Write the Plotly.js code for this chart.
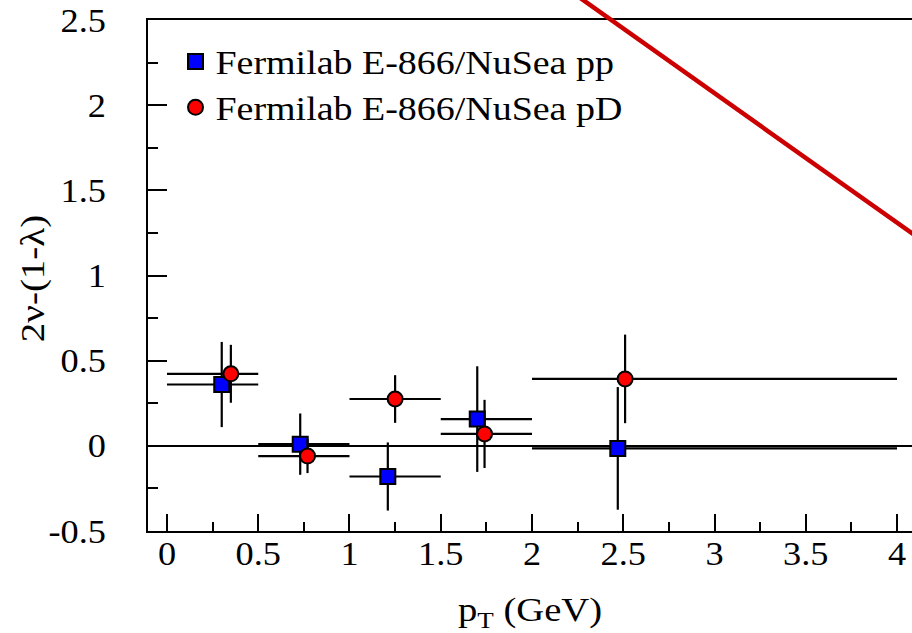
<!DOCTYPE html>
<html>
<head>
<meta charset="utf-8">
<script src="https://cdn.plot.ly/plotly-3.0.1.min.js"></script>
<style>
  html, body { margin: 0; padding: 0; background: #fff; overflow: hidden; }
  #chart { width: 912px; height: 633px; }
</style>
</head>
<body>
<div id="chart"></div>
<script>
// ---- data ----
const binLo = [0.0, 0.5, 1.0, 1.5, 2.0];
const binHi = [0.5, 1.0, 1.5, 2.0, 4.0];

const ppName = 'Fermilab E-866/NuSea pp';
const ppX   = [0.30, 0.73, 1.21, 1.70, 2.47];
const ppY   = [0.36, 0.01, -0.18, 0.157, -0.015];
const ppErr = [0.25, 0.18, 0.20, 0.31, 0.36];

const pdName = 'Fermilab E-866/NuSea pD';
const pdX   = [0.35, 0.77, 1.25, 1.74, 2.51];
const pdY   = [0.423, -0.06, 0.275, 0.07, 0.393];
const pdErr = [0.17, 0.10, 0.14, 0.20, 0.26];

const lineX = [2.25, 4.10];
const lineY = [2.64, 1.234];

const yTickVals = [-0.5, 0, 0.5, 1, 1.5, 2, 2.5];
const yTickText = ['-0.5', '0', '0.5', '1', '1.5', '2', '2.5'];
const xTickVals = [0, 0.5, 1, 1.5, 2, 2.5, 3, 3.5, 4];
const xTickText = ['0', '0.5', '1', '1.5', '2', '2.5', '3', '3.5', '4'];

// ---- chart ----
const FONT = 'Liberation Serif';
const FS = 33;

function errPlus(xs)  { return xs.map((x, i) => binHi[i] - x); }
function errMinus(xs) { return xs.map((x, i) => x - binLo[i]); }
const errStyle = { color: '#000', thickness: 2.2, width: 0 };

const traces = [
  { type: 'scatter', mode: 'markers', name: ppName, x: ppX, y: ppY, xaxis: 'x', yaxis: 'y',
    marker: { symbol: 'square', size: 15, color: '#0000ff', line: { color: '#000', width: 2 } },
    error_x: Object.assign({ type: 'data', symmetric: false, array: errPlus(ppX), arrayminus: errMinus(ppX) }, errStyle),
    error_y: Object.assign({ type: 'data', array: ppErr }, errStyle), cliponaxis: false },
  { type: 'scatter', mode: 'markers', name: pdName, x: pdX, y: pdY, xaxis: 'x', yaxis: 'y',
    marker: { symbol: 'circle', size: 15, color: '#ff0000', line: { color: '#000', width: 2 } },
    error_x: Object.assign({ type: 'data', symmetric: false, array: errPlus(pdX), arrayminus: errMinus(pdX) }, errStyle),
    error_y: Object.assign({ type: 'data', array: pdErr }, errStyle), cliponaxis: false },
  { type: 'scatter', mode: 'lines', name: 'theory', x: lineX, y: lineY, xaxis: 'x', yaxis: 'y2',
    line: { color: '#cc0000', width: 4.5 }, showlegend: false, hoverinfo: 'skip' }
];

const W = 912, H = 633;
const mL = 148, mR = 0, mT = 0, mB = 102;
const plotH = H - mT - mB;        // 531
const frameTopPx = 20;            // top frame line sits 20px below the canvas top
const yDomTop = (plotH - frameTopPx) / plotH;
const yMin = -0.5, yMax = 2.5;
const y2Max = yMin + (yMax - yMin) / yDomTop;

const layout = {
  width: W, height: H,
  margin: { l: mL, r: mR, t: mT, b: mB, pad: 0 },
  paper_bgcolor: '#fff', plot_bgcolor: 'rgba(0,0,0,0)',
  font: { family: FONT, size: FS, color: '#000' },
  showlegend: true,
  legend: { x: 0.036, y: 0.937, xanchor: 'left', yanchor: 'top',
    bgcolor: 'rgba(0,0,0,0)', borderwidth: 0,
    font: { family: FONT, size: FS, color: '#000' }, tracegroupgap: 0, itemwidth: 30 },
  xaxis: { domain: [0, 1], anchor: 'y', range: [-0.104, 4.082],
    tickmode: 'array', tickvals: xTickVals, ticktext: xTickText,
    ticks: 'inside', ticklen: 17, tickwidth: 2, tickcolor: '#000',
    minor: { ticks: 'inside', ticklen: 9, tickwidth: 2, tickcolor: '#000', tickmode: 'linear', tick0: 0, dtick: 0.25 },
    showline: true, linewidth: 2, linecolor: '#000', mirror: true, showgrid: false, zeroline: false,
    tickfont: { family: FONT, size: FS, color: '#000' }, ticklabelstandoff: -8,
    title: { text: 'p<sub>T</sub> (GeV)', font: { family: FONT, size: FS, color: '#000' }, standoff: 38 } },
  yaxis: { domain: [0, yDomTop], anchor: 'x', range: [yMin, yMax],
    tickmode: 'array', tickvals: yTickVals, ticktext: yTickText,
    ticks: 'inside', ticklen: 19, tickwidth: 2, tickcolor: '#000',
    minor: { ticks: 'inside', ticklen: 10, tickwidth: 2, tickcolor: '#000', tickmode: 'linear', tick0: 0, dtick: 0.25 },
    showline: true, linewidth: 2.5, linecolor: '#000', mirror: false, showgrid: false,
    zeroline: true, zerolinewidth: 2, zerolinecolor: '#000',
    tickfont: { family: FONT, size: FS, color: '#000' }, ticklabelstandoff: 33,
    title: { text: '2ν-(1-λ)', font: { family: FONT, size: FS, color: '#000' }, standoff: 0 } },
  yaxis2: { domain: [0, 1], anchor: 'x', range: [yMin, y2Max], visible: false, showgrid: false, zeroline: false }
};

// the reference typesetting is a little wider than Liberation Serif: widen glyphs horizontally
function widen(sel, k) {
  document.querySelectorAll(sel).forEach(t => {
    const w = t.getComputedTextLength();
    if (w > 0) {
      t.setAttribute('textLength', (w * k).toFixed(2));
      t.setAttribute('lengthAdjust', 'spacingAndGlyphs');
    }
  });
}

Plotly.newPlot('chart', traces, layout, { displayModeBar: false, staticPlot: true }).then(() => {
  widen('.legendtext', 1.15);
  widen('.xtick text', 1.1);
  widen('.ytick text', 1.1);
  widen('.xtitle', 1.17);
  widen('.ytitle', 1.18);
  // let the widened legend labels show in full
  document.querySelectorAll('.legend [clip-path], .legend [style*="clip-path"]').forEach(e => {
    e.removeAttribute('clip-path');
    e.style.clipPath = 'none';
  });
  const yt = document.querySelector('.g-ytitle');
  if (yt) yt.setAttribute('transform', 'translate(1,3)');
});
</script>
</body>
</html>
